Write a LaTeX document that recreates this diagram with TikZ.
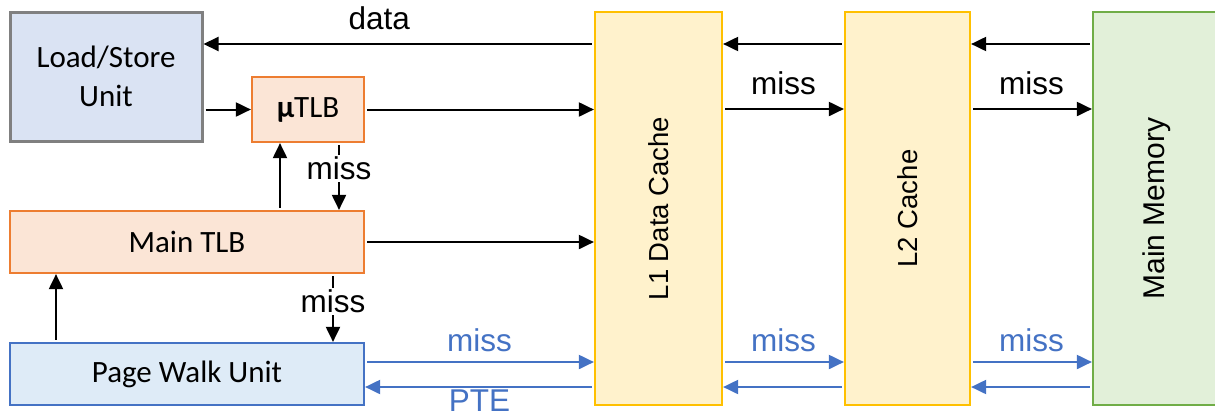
\documentclass[tikz,border=0pt]{standalone}
\usepackage{fontspec}
\setmainfont{Liberation Sans}
\newfontfamily\calibri{Carlito}
\usetikzlibrary{arrows.meta}

\definecolor{lsufill}{HTML}{DAE3F3}
\definecolor{lsudraw}{HTML}{808080}
\definecolor{tlbfill}{HTML}{FBE5D6}
\definecolor{tlbdraw}{HTML}{ED7D31}
\definecolor{pwufill}{HTML}{DEEBF7}
\definecolor{pwudraw}{HTML}{4472C4}
\definecolor{cachefill}{HTML}{FFF2CC}
\definecolor{cachedraw}{HTML}{FFC000}
\definecolor{memfill}{HTML}{E2F0D9}
\definecolor{memdraw}{HTML}{70AD47}

\tikzset{
  unit/.style={draw,line width=2.2pt,inner sep=0pt,align=center,
    font=\calibri\fontsize{31}{39}\selectfont},
  cachebox/.style={draw=cachedraw,fill=cachefill,line width=2.2pt,inner sep=0pt,
    minimum height=393pt,font=\fontsize{27.5}{32}\selectfont},
  link/.style={line width=2pt,shorten <=2pt,-{Triangle[length=15pt,width=14pt]}},
  req/.style={link,draw=pwudraw},
  lbl/.style={font=\fontsize{31.5}{36}\selectfont},
  bluelbl/.style={lbl,text=pwudraw}
}

\begin{document}
\begin{tikzpicture}[x=1pt,y=-1pt]

\useasboundingbox (0,0) rectangle (1215,416);

% TRANSLATION SIDE

\node[unit,draw=lsudraw,fill=lsufill,line width=3pt,minimum width=192pt,minimum height=129pt] (lsu) at (106,76.5) {Load/Store\\Unit};
\node[unit,draw=tlbdraw,fill=tlbfill,minimum width=112pt,minimum height=65pt] (utlb) at (308,109.5) {\textbf{µ}TLB};
\node[unit,draw=tlbdraw,fill=tlbfill,minimum width=354pt,minimum height=62pt] (mtlb) at (187,242) {Main TLB};
\node[unit,draw=pwudraw,fill=pwufill,minimum width=354pt,minimum height=62pt] (pwu) at (187,374) {Page Walk Unit};

% CACHE HIERARCHY

\node[cachebox,minimum width=127pt] (l1) at (658.5,208.5) {\rotatebox{90}{L1 Data Cache}};
\node[cachebox,minimum width=125pt] (l2) at (907.5,208.5) {\rotatebox{90}{L2 Cache}};
\node[cachebox,draw=memdraw,fill=memfill,minimum width=128pt,font=\fontsize{30}{34}\selectfont] (mm) at (1157,208.5) {\rotatebox{90}{Main Memory}};

% ROWS

\coordinate (rowdata) at (0,44);
\coordinate (rowmiss) at (0,109);
\coordinate (rowreq) at (0,362);
\coordinate (rowpte) at (0,387);

% DATA AND MISS PATHS

\draw[link] (l1.west |- rowdata) -- node[lbl,above=10pt,pos=0.55]{data} (lsu.east |- rowdata);
\draw[link] (l2.west |- rowdata) -- (l1.east |- rowdata);
\draw[link] (mm.west |- rowdata) -- (l2.east |- rowdata);

\draw[link] (utlb.west -| lsu.east) -- (utlb.west);
\draw[link] (utlb.east) -- (utlb.east -| l1.west);
\draw[link] (l1.east |- rowmiss) -- node[lbl,above=10pt]{miss} (l2.west |- rowmiss);
\draw[link] (l2.east |- rowmiss) -- node[lbl,above=10pt]{miss} (mm.west |- rowmiss);
\draw[link] (mtlb.east) -- (mtlb.east -| l1.west);

% TLB MISSES

\draw[link] ([xshift=31pt]utlb.south) -- node[lbl,fill=white,inner sep=2pt,pos=0.38]{miss} ([xshift=31pt]utlb.south |- mtlb.north);
\draw[link] ([xshift=-28pt]utlb.south |- mtlb.north) -- ([xshift=-28pt]utlb.south);
\draw[link] ([xshift=146pt]mtlb.south) -- node[lbl,fill=white,inner sep=2pt,pos=0.4]{miss} ([xshift=146pt]mtlb.south |- pwu.north);
\draw[link] ([xshift=-131pt]mtlb.south |- pwu.north) -- ([xshift=-131pt]mtlb.south);

% PAGE WALK

\draw[req] (pwu.east |- rowreq) -- node[bluelbl,above=6pt]{miss} (l1.west |- rowreq);
\draw[req] (l1.west |- rowpte) -- node[bluelbl,fill=white,inner sep=1pt,below=1pt]{PTE} (pwu.east |- rowpte);
\draw[req] (l1.east |- rowreq) -- node[bluelbl,above=6pt]{miss} (l2.west |- rowreq);
\draw[req] (l2.west |- rowpte) -- (l1.east |- rowpte);
\draw[req] (l2.east |- rowreq) -- node[bluelbl,above=6pt]{miss} (mm.west |- rowreq);
\draw[req] (mm.west |- rowpte) -- (l2.east |- rowpte);

\end{tikzpicture}
\end{document}
